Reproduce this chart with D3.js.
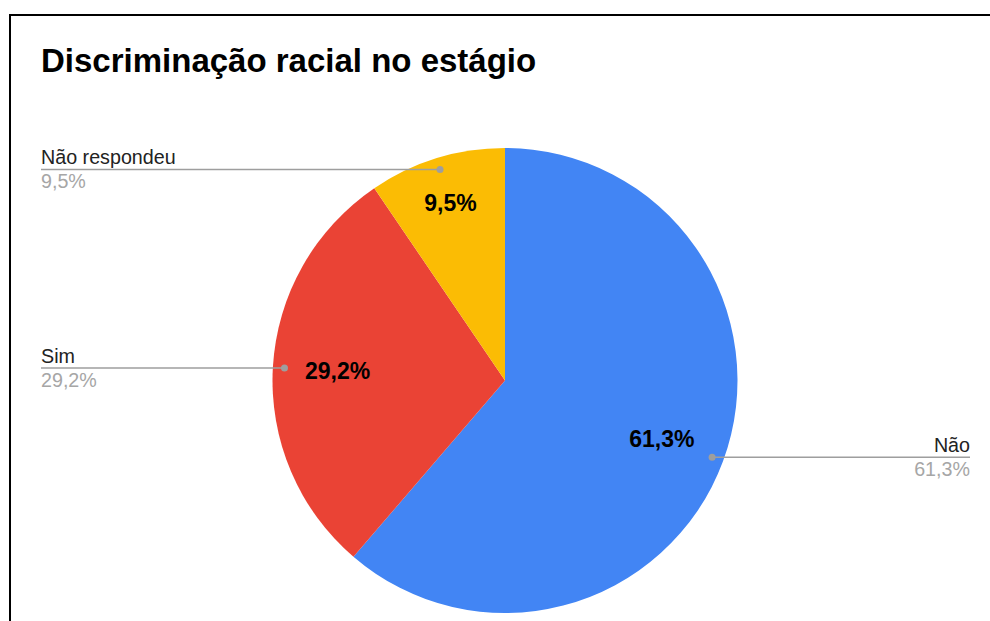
<!DOCTYPE html>
<html>
<head>
<meta charset="utf-8">
<script src="https://cdnjs.cloudflare.com/ajax/libs/d3/7.8.5/d3.min.js"></script>
<style>
  html, body { margin: 0; padding: 0; background: #fff; }
  svg { display: block; font-family: "Liberation Sans", Arial, sans-serif; }
</style>
</head>
<body>
<svg id="chart" width="990" height="621"></svg>
<script>
const title = "Discriminação racial no estágio";
const categories = ["Não", "Sim", "Não respondeu"];
const values = [61.3, 29.2, 9.5];
const valueLabels = ["61,3%", "29,2%", "9,5%"];
const colors = ["#4285F4", "#EA4335", "#FBBC04"];

const svg = d3.select("#chart");

// frame
svg.append("rect")
  .attr("x", 10).attr("y", 15)
  .attr("width", 1000).attr("height", 700)
  .attr("fill", "#fff").attr("stroke", "#000").attr("stroke-width", 2);

svg.append("text")
  .attr("x", 41).attr("y", 72)
  .attr("font-size", 33).attr("font-weight", "bold").attr("fill", "#000")
  .text(title);

const cx = 505, cy = 380.5, R = 232.5;
const g = svg.append("g").attr("transform", `translate(${cx},${cy})`);

const pie = d3.pie().sort(null).value(d => d.v);
const data = categories.map((c, i) => ({ name: c, v: values[i], label: valueLabels[i], color: colors[i] }));
const arcs = pie(data);
const arc = d3.arc().innerRadius(0).outerRadius(R);

g.selectAll("path.slice").data(arcs).join("path")
  .attr("class", "slice")
  .attr("d", arc)
  .attr("fill", d => d.data.color);

// inner labels
arcs.forEach(a => {
  const mid = (a.startAngle + a.endAngle) / 2;
  const t = g.append("text")
    .attr("font-size", 23).attr("font-weight", "bold").attr("fill", "#000")
    .attr("text-anchor", "middle")
    .text(a.data.label);
  const w = t.node().getComputedTextLength();
  const h = 16;
  const ext = Math.abs(w / 2 * Math.sin(mid)) + Math.abs(h / 2 * Math.cos(mid));
  const r = 0.863 * R - ext;
  const x = r * Math.sin(mid), y = -r * Math.cos(mid);
  t.attr("x", x).attr("y", y + 8);
});

// leader labels
const lineColor = "#9e9e9e";
arcs.forEach(a => {
  const mid = (a.startAngle + a.endAngle) / 2;
  const rd = 0.95 * R;
  const dx = cx + rd * Math.sin(mid), dy = cy - rd * Math.cos(mid);
  const right = Math.sin(mid) > 0;
  const lx = right ? 970 : 41;
  svg.append("line")
    .attr("x1", lx).attr("x2", dx).attr("y1", dy).attr("y2", dy)
    .attr("stroke", lineColor).attr("stroke-width", 1.5);
  svg.append("circle").attr("cx", dx).attr("cy", dy).attr("r", 3.5).attr("fill", lineColor);
  svg.append("text")
    .attr("x", lx).attr("y", dy - 5.5)
    .attr("text-anchor", right ? "end" : "start")
    .attr("font-size", 19.7).attr("fill", "#222")
    .text(a.data.name);
  svg.append("text")
    .attr("x", lx).attr("y", dy + 19)
    .attr("text-anchor", right ? "end" : "start")
    .attr("font-size", 19.7).attr("fill", "#a6a6a6")
    .text(a.data.label);
});
</script>
</body>
</html>
